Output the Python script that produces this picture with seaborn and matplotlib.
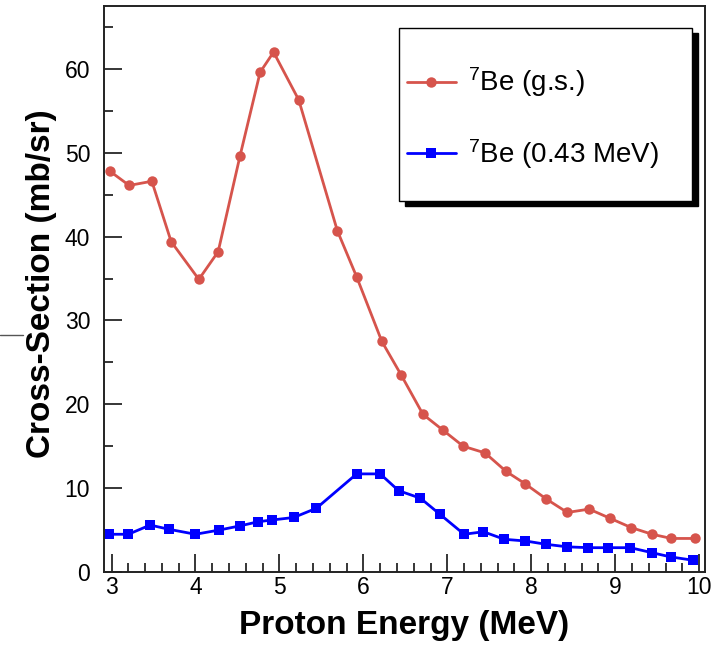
import matplotlib
matplotlib.use("Agg")
import matplotlib.pyplot as plt
from matplotlib.lines import Line2D
from matplotlib.patches import Rectangle
from matplotlib.ticker import MultipleLocator
import seaborn as sns
import pandas as pd

# ---- data ----
energy_gs = [2.98, 3.21, 3.48, 3.71, 4.04, 4.27, 4.53, 4.77, 4.93, 5.23, 5.69, 5.92,
             6.22, 6.45, 6.71, 6.95, 7.19, 7.45, 7.70, 7.93, 8.18, 8.43, 8.69, 8.94,
             9.19, 9.44, 9.67, 9.95]
xsec_gs = [47.8, 46.1, 46.6, 39.4, 34.9, 38.2, 49.6, 59.6, 62.0, 56.3, 40.7, 35.2,
           27.5, 23.5, 18.8, 16.9, 15.0, 14.2, 12.0, 10.5, 8.7, 7.1, 7.5, 6.4,
           5.3, 4.5, 4.0, 4.0]

energy_ex = [2.97, 3.20, 3.46, 3.68, 4.00, 4.28, 4.53, 4.75, 4.91, 5.17, 5.44, 5.92,
             6.20, 6.42, 6.68, 6.91, 7.20, 7.43, 7.68, 7.93, 8.18, 8.43, 8.68, 8.92,
             9.18, 9.44, 9.66, 9.93]
xsec_ex = [4.5, 4.5, 5.6, 5.1, 4.5, 5.0, 5.5, 6.0, 6.2, 6.5, 7.6, 11.7,
           11.7, 9.7, 8.8, 6.9, 4.5, 4.8, 3.9, 3.7, 3.3, 3.0, 2.9, 2.9,
           2.9, 2.3, 1.8, 1.4]

label_gs = r"$\mathregular{^{7}}$Be (g.s.)"
label_ex = r"$\mathregular{^{7}}$Be (0.43 MeV)"
x_label = "Proton Energy (MeV)"
y_label = "Cross-Section (mb/sr)"

red = "#d6544c"
blue = "#0000ff"

# ---- style ----
sns.set_theme(style="white")
plt.rcParams["font.family"] = ["Liberation Sans", "DejaVu Sans"]
plt.rcParams["mathtext.fontset"] = "custom"
plt.rcParams["mathtext.rm"] = "Liberation Sans"
plt.rcParams["text.color"] = "black"
plt.rcParams["axes.labelcolor"] = "black"

W, H = 726, 649
fig = plt.figure(figsize=(W / 100, H / 100), dpi=100)
ax = fig.add_axes([104 / W, 1 - 572 / H, (705 - 104) / W, (572 - 6) / H])

df_gs = pd.DataFrame({"E": energy_gs, "XS": xsec_gs})
df_ex = pd.DataFrame({"E": energy_ex, "XS": xsec_ex})

sns.lineplot(data=df_gs, x="E", y="XS", ax=ax, color=red, lw=2.0, marker="o",
             markersize=7.5, markeredgewidth=0, label=label_gs)
sns.lineplot(data=df_ex, x="E", y="XS", ax=ax, color=blue, lw=2.0, marker="s",
             markersize=6.5, markeredgewidth=0, label=label_ex)

ax.set_xlim(2.91, 10.07)
ax.set_ylim(0, 67.5)
ax.xaxis.set_major_locator(MultipleLocator(1))
ax.xaxis.set_minor_locator(MultipleLocator(0.2))
ax.yaxis.set_major_locator(MultipleLocator(10))
ax.yaxis.set_minor_locator(MultipleLocator(5))

ax.tick_params(axis="both", which="both", direction="in", colors="black",
               bottom=True, left=True, top=False, right=False,
               labelsize=16.5, width=1.1)
ax.tick_params(axis="both", which="major", length=13)
ax.tick_params(axis="both", which="minor", length=6.5)
ax.tick_params(axis="x", which="major", pad=3)
ax.tick_params(axis="y", which="major", pad=10)

for s in ax.spines.values():
    s.set_visible(True)
    s.set_color("#222222")
    s.set_linewidth(1.4)

ax.set_xlabel(x_label, fontsize=24, fontweight="bold", labelpad=8)
ax.set_ylabel(y_label, fontsize=24, fontweight="bold")
ax.yaxis.set_label_coords(-0.078, 0.51)

# legend box with solid shadow
lx0, lx1, ly0, ly1 = 399, 692, 28, 201
fig.add_artist(Rectangle(((lx0 + 6) / W, 1 - (ly1 + 5) / H), (lx1 - lx0) / W,
                         (ly1 - ly0) / H, transform=fig.transFigure,
                         facecolor="black", edgecolor="black", zorder=5))
fig.add_artist(Rectangle((lx0 / W, 1 - ly1 / H), (lx1 - lx0) / W, (ly1 - ly0) / H,
                         transform=fig.transFigure, facecolor="white",
                         edgecolor="black", lw=1.0, zorder=6))
leg = ax.legend(loc="center left", bbox_to_anchor=(407 / W, 1 - 118 / H),
                bbox_transform=fig.transFigure, frameon=False, fontsize=20,
                handlelength=1.75, handletextpad=0.45, labelspacing=1.35,
                borderpad=0, borderaxespad=0)
for t in leg.get_texts():
    t.set_color("black")
leg.set_zorder(7)
leg.remove()
fig.add_artist(leg)

# small stray mark at left edge
fig.add_artist(Line2D([0, 23 / W], [1 - 335 / H, 1 - 335 / H],
                      transform=fig.transFigure, color="#555555", lw=1.0))

fig.savefig("out.png", dpi=100)
